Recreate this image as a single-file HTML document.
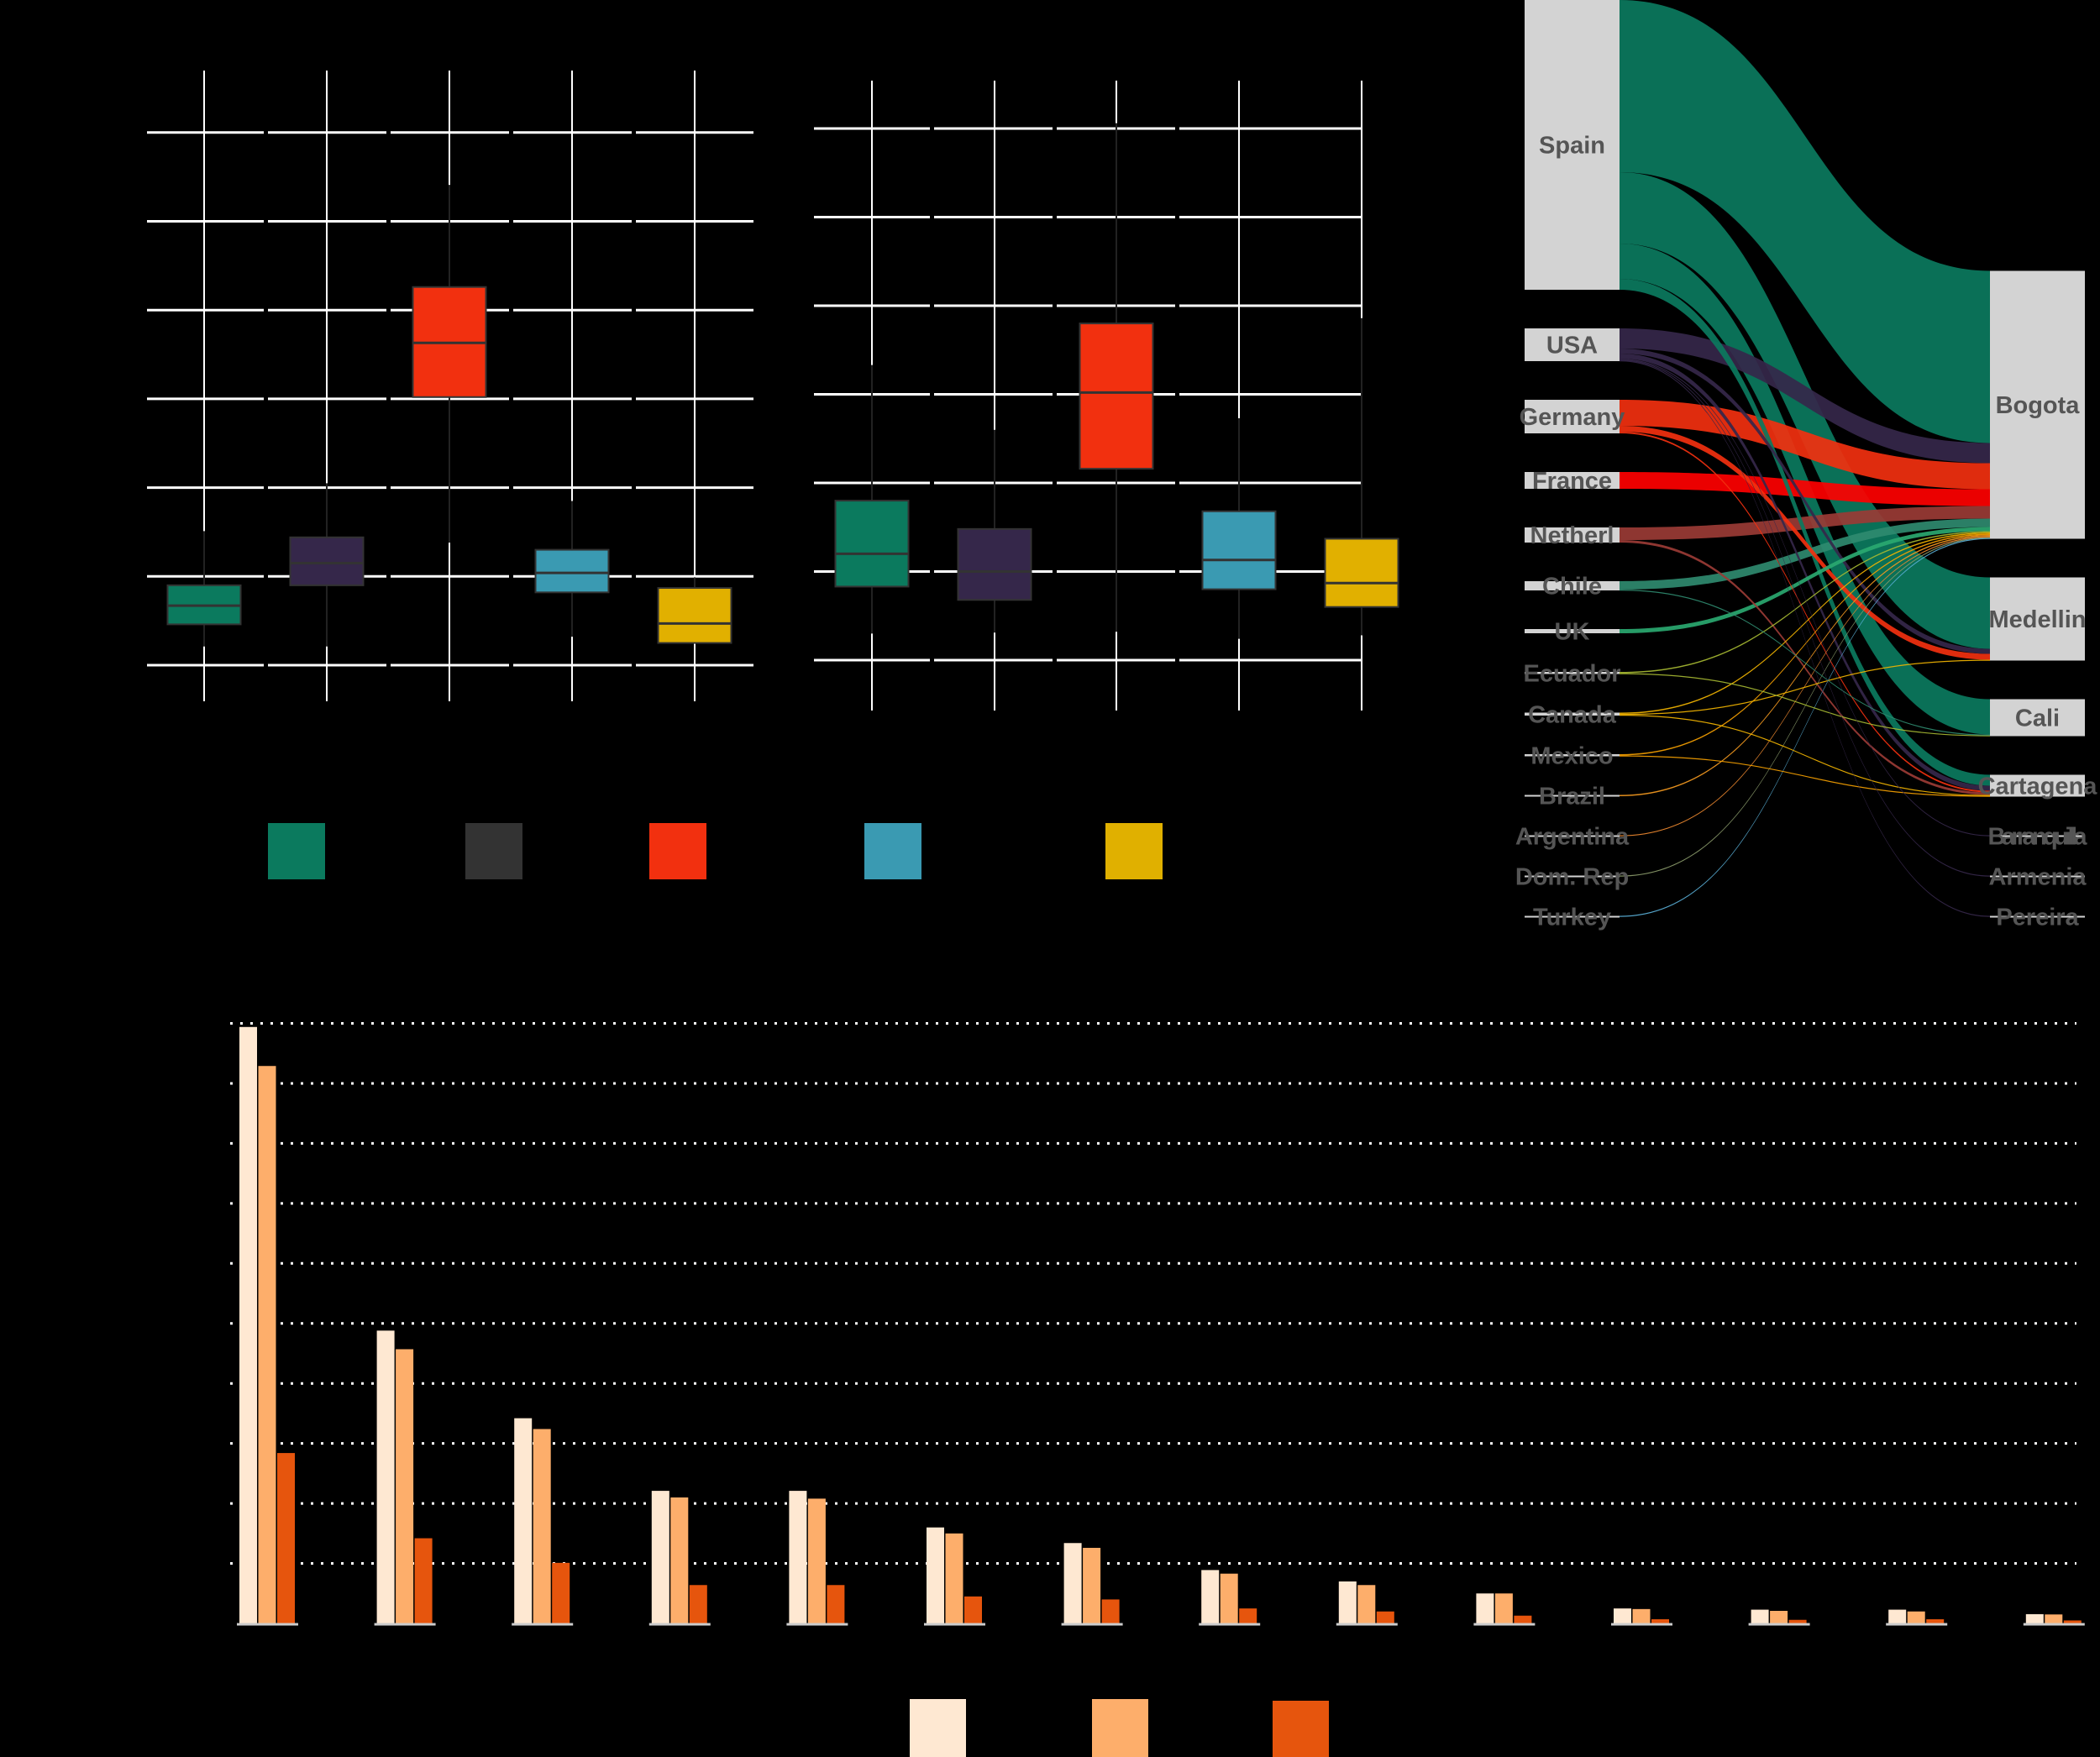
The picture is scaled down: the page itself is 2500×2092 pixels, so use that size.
<!DOCTYPE html>
<html><head><meta charset="utf-8"><style>
html,body{margin:0;padding:0;background:#000;}
svg{display:block;font-family:"Liberation Sans",sans-serif;}
</style></head><body>
<svg id="root" width="2500" height="2092" viewBox="0 0 2500 2092" xmlns="http://www.w3.org/2000/svg">
<rect x="0" y="0" width="2500" height="2092" fill="#000"/>
<g id="box1"></g>
<g id="box2"></g>
<g id="boxlegend"></g>
<g id="sankey"></g>
<g id="bars"></g>
<g id="barlegend"></g>
</svg>
<script>
const NS="http://www.w3.org/2000/svg";
function mk(tag,attrs,parent){const e=document.createElementNS(NS,tag);for(const k in attrs)e.setAttribute(k,attrs[k]);parent.appendChild(e);return e;}

// ---------- Boxplot data ----------
const boxColors=["#0b7a5e","#35274a","#f2300f","#3a9ab2","#e1b000"];
const legendColors=["#0b7a5e","#333333","#f2300f","#3a9ab2","#e0b000"];
const leftQ1=[0.46,0.90,3.02,0.82,0.25];
const leftMed=[0.67,1.15,3.63,1.04,0.47];
const leftQ3=[0.90,1.44,4.26,1.30,0.87];
const leftLo=[0.21,0.21,1.38,0.32,0.25];
const leftHi=[1.51,2.05,5.41,1.85,0.99];
const rightQ1=[0.83,0.68,2.16,0.80,0.60];
const rightMed=[1.20,1.00,3.02,1.13,0.87];
const rightQ3=[1.80,1.48,3.80,1.68,1.37];
const rightLo=[0.30,0.31,0.32,0.24,0.28];
const rightHi=[3.33,2.60,6.06,2.73,3.86];

function boxPanel(g,cfg,q1,med,q3,lo,hi){
  const y=v=>cfg.y0-v*cfg.step;
  const xs=cfg.xs;
  // horizontal grid segments
  for(let i=0;i<cfg.nGrid;i++){
    const yy=y(i);
    cfg.segs.forEach(s=>{
      const l=mk('line',{x1:s[0],x2:s[1],y1:yy,y2:yy,stroke:'#fff','stroke-width':3},g);
      
      
    });
  }
  xs.forEach(x=>{
    const l=mk('line',{x1:x,x2:x,y1:cfg.vTop,y2:cfg.vBot,stroke:'#fff','stroke-width':2},g);
    
    
  });
  const w=87;
  q1.forEach((_,i)=>{
    const x=xs[i];
    const wl=mk('line',{x1:x,x2:x,y1:y(hi[i]),y2:y(lo[i]),stroke:'#222','stroke-width':2},g);
    
    
    const r=mk('rect',{x:x-w/2,y:y(q3[i]),width:w,height:y(q1[i])-y(q3[i]),fill:boxColors[i],stroke:'#333','stroke-width':2},g);
    
    
    const m=mk('line',{x1:x-w/2,x2:x+w/2,y1:y(med[i]),y2:y(med[i]),stroke:'#333','stroke-width':3},g);
    
    
  });
}
boxPanel(document.getElementById('box1'),{y0:792,step:105.7,nGrid:7,xs:[243,389,535,681,827],vTop:84,vBot:835,
  segs:[[175,314],[319,460],[465,606],[611,752],[757,897]]},leftQ1,leftMed,leftQ3,leftLo,leftHi);
boxPanel(document.getElementById('box2'),{y0:786,step:105.5,nGrid:7,xs:[1038,1184,1329,1475,1621],vTop:96,vBot:846,
  segs:[[969,1107],[1112,1253],[1258,1399],[1404,1621]]},rightQ1,rightMed,rightQ3,rightLo,rightHi);

const legX=[319,554,773,1029,1316];
const lg=document.getElementById('boxlegend');
legX.forEach((x,i)=>{
  const r=mk('rect',{x:x,y:980,width:68,height:67,fill:legendColors[i]},lg);
  
  
});

// ---------- Sankey data ----------
const srcNames=["Spain","USA","Germany","France","Netherl","Chile","UK","Ecuador","Canada","Mexico","Brazil","Argentina","Dom. Rep","Turkey"];
const srcColors=["#0b7a5e","#35274a","#f2300f","#ff0000","#9a3b35","#2f8a6f","#2aa870","#a6b832","#f2b400","#f5a000","#f59a20","#f08a30","#8a9a6a","#5ab0d8"];
const tgtNames=["Bogota","Medellin","Cali","Cartagena","Barranquilla","Armenia","Pereira"];
const flowSrc=[0,0,0,0, 1,1,1,1,1,1, 2,2,2, 3, 4,4, 5,5, 6, 7,7, 8,8,8, 9,9, 10, 11, 12, 13];
const flowTgt=[0,1,2,3, 0,1,3,4,5,6, 0,1,3, 0, 0,3, 0,2, 0, 0,2, 0,1,3, 0,3, 0, 0, 0, 0];
const flowVal=[205,85,42,13, 24,6,6,1,1,1, 31,7,2, 20, 15,3, 10,1, 5, 1.5,1, 1.5,1,1, 1.5,1, 1.5,1,1,1];

(function(){
  const g=document.getElementById('sankey');
  const xL0=1815,xL1=1928,xR0=2369,xR1=2482,gap=46,minH=2;
  const sTot=srcNames.map((_,i)=>flowVal.reduce((a,v,k)=>a+(flowSrc[k]===i?v:0),0));
  const tTot=tgtNames.map((_,i)=>flowVal.reduce((a,v,k)=>a+(flowTgt[k]===i?v:0),0));
  const sTop=[];let yy=0;
  sTot.forEach((v,i)=>{sTop.push(yy);yy+=Math.max(v,minH)+gap;});
  const tH=tTot.map(v=>Math.max(v,minH));
  const total=tH.reduce((a,b)=>a+b,0)+gap*(tH.length-1);
  const bottom=sTop[sTop.length-1]+Math.max(sTot[sTot.length-1],minH);
  const tTop=[];yy=bottom-total;
  tH.forEach(h=>{tTop.push(yy);yy+=h+gap;});
  // flows
  const sOff=sTop.slice(),tOff=tTop.slice();
  const order=flowVal.map((_,k)=>k);
  const sy={},ty={};
  order.slice().sort((a,b)=>flowSrc[a]-flowSrc[b]||flowTgt[a]-flowTgt[b]).forEach(k=>{sy[k]=sOff[flowSrc[k]];sOff[flowSrc[k]]+=flowVal[k];});
  order.slice().sort((a,b)=>flowTgt[a]-flowTgt[b]||flowSrc[a]-flowSrc[b]).forEach(k=>{ty[k]=tOff[flowTgt[k]];tOff[flowTgt[k]]+=flowVal[k];});
  const mx=(xL1+xR0)/2;
  order.slice().sort((a,b)=>flowVal[a]-flowVal[b]).reverse().forEach(k=>{
    const v=Math.max(flowVal[k],1.2),y0=sy[k],y1=ty[k];
    const d=`M${xL1},${y0} C${mx},${y0} ${mx},${y1} ${xR0},${y1} L${xR0},${y1+v} C${mx},${y1+v} ${mx},${y0+v} ${xL1},${y0+v} Z`;
    const p=mk('path',{d:d,fill:srcColors[flowSrc[k]],'fill-opacity':0.92},g);
    
    
  });
  srcNames.forEach((n,i)=>{
    const h=Math.max(sTot[i],minH);
    const r=mk('rect',{x:xL0,y:sTop[i],width:xL1-xL0,height:h,fill:'#d3d3d3'},g);
    
    
    const t=mk('text',{x:(xL0+xL1)/2,y:sTop[i]+h/2+10,'text-anchor':'middle','font-size':29,'font-weight':'bold',fill:'#555'},g);
    t.textContent=n;
    
    
  });
  tgtNames.forEach((n,i)=>{
    const r=mk('rect',{x:xR0,y:tTop[i],width:xR1-xR0,height:tH[i],fill:'#d3d3d3'},g);
    
    
    const t=mk('text',{x:(xR0+xR1)/2,y:tTop[i]+tH[i]/2+10,'text-anchor':'middle','font-size':29,'font-weight':'bold',fill:'#555',textLength:n.length>9?118:null},g);
    if(n.length<=9)t.removeAttribute('textLength');
    t.textContent=n;
    
    
  });
})();

// ---------- Bar chart data ----------
const barCategories=["c1","c2","c3","c4","c5","c6","c7","c8","c9","c10","c11","c12","c13","c14"];
const series1=[9.94,4.88,3.42,2.21,2.21,1.60,1.34,0.89,0.70,0.50,0.25,0.23,0.23,0.155];
const series2=[9.29,4.57,3.24,2.10,2.08,1.50,1.26,0.83,0.64,0.50,0.24,0.21,0.20,0.15];
const series3=[2.84,1.42,1.01,0.64,0.64,0.45,0.40,0.25,0.20,0.13,0.07,0.06,0.07,0.05];
const gridTicks=[1,2,3,4,5,6,7,8,9,10];
const barColors=["#fee8d2","#fdae6b","#e6550d"];

(function(){
  const g=document.getElementById('bars');
  const base=1933,unit=71.45;
  const y=v=>base-v*unit;
  const x=i=>319+i*163.6;
  gridTicks.forEach(t=>{
    const l=mk('line',{x1:274,x2:2472,y1:y(t),y2:y(t),stroke:'#fff','stroke-width':3,'stroke-dasharray':'3 9'},g);
    
    
  });
  const bw=21;
  [series1,series2,series3].forEach((s,si)=>{
    s.forEach((v,i)=>{
      const bx=x(i)-34+si*22.5;
      const r=mk('rect',{x:bx,y:y(v),width:bw,height:base-y(v),fill:barColors[si]},g);
      
      
    });
  });
  barCategories.forEach((c,i)=>{
    const l=mk('line',{x1:x(i)-37,x2:x(i)+36,y1:base+1,y2:base+1,stroke:'#ccc','stroke-width':3},g);
    
    
  });
  const lg=document.getElementById('barlegend');
  [[1083,2023],[1300,2023],[1515,2025]].forEach((p,i)=>{
    const r=mk('rect',{x:p[0],y:p[1],width:67,height:2092-p[1],fill:barColors[i]},lg);
    
    
  });
})();
</script>
</body></html>
